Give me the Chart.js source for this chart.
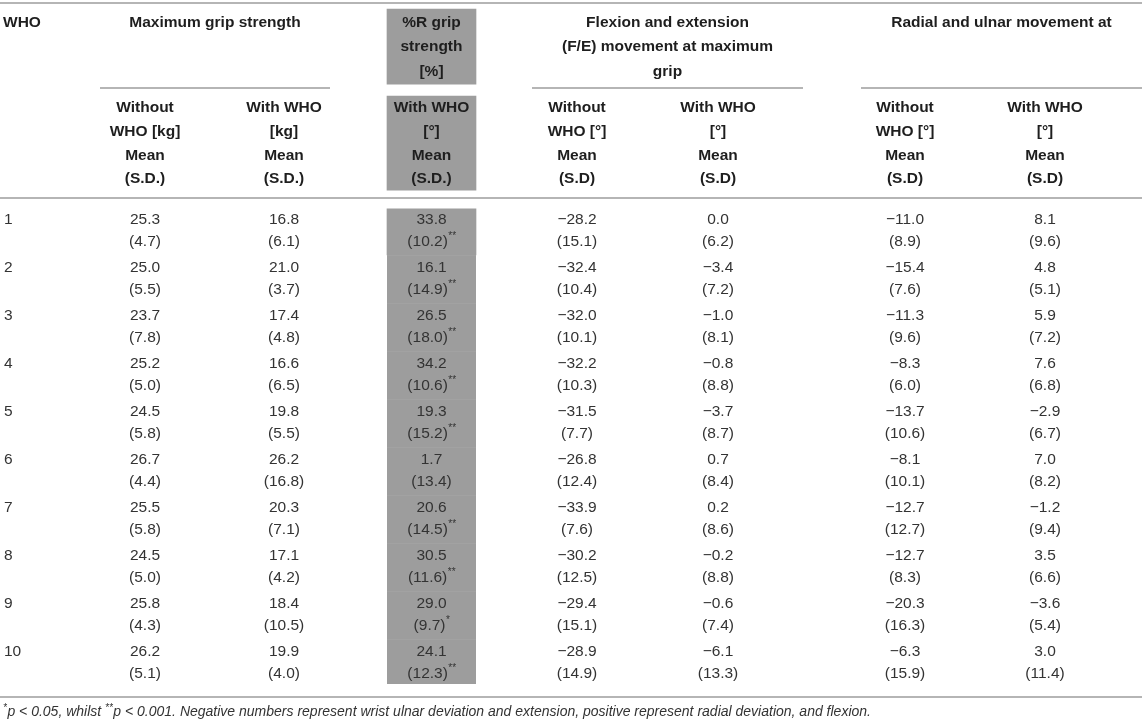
<!DOCTYPE html>
<html>
<head>
<meta charset="utf-8">
<script src="https://cdn.jsdelivr.net/npm/chart.js@4/dist/chart.umd.min.js"></script>
<style>
  html, body { margin: 0; padding: 0; background: #fff; }
  #wrap { width: 1145px; height: 722px; }
</style>
</head>
<body>
<div id="wrap"><canvas id="whoTable"></canvas></div>
<script>
// WHO numbers (rows)
const whoRows = ['1', '2', '3', '4', '5', '6', '7', '8', '9', '10'];

// Maximum grip strength [kg]
const gripWithoutMean = [25.3, 25.0, 23.7, 25.2, 24.5, 26.7, 25.5, 24.5, 25.8, 26.2];
const gripWithoutSD = [4.7, 5.5, 7.8, 5.0, 5.8, 4.4, 5.8, 5.0, 4.3, 5.1];
const gripWithMean = [16.8, 21.0, 17.4, 16.6, 19.8, 26.2, 20.3, 17.1, 18.4, 19.9];
const gripWithSD = [6.1, 3.7, 4.8, 6.5, 5.5, 16.8, 7.1, 4.2, 10.5, 4.0];

// %R grip strength
const pctRMean = [33.8, 16.1, 26.5, 34.2, 19.3, 1.7, 20.6, 30.5, 29.0, 24.1];
const pctRSD = [10.2, 14.9, 18.0, 10.6, 15.2, 13.4, 14.5, 11.6, 9.7, 12.3];
const pctRSig = ['**', '**', '**', '**', '**', '', '**', '**', '*', '**'];

// F/E movement at maximum grip [deg]
const feWithoutMean = [-28.2, -32.4, -32.0, -32.2, -31.5, -26.8, -33.9, -30.2, -29.4, -28.9];
const feWithoutSD = [15.1, 10.4, 10.1, 10.3, 7.7, 12.4, 7.6, 12.5, 15.1, 14.9];
const feWithMean = [0.0, -3.4, -1.0, -0.8, -3.7, 0.7, 0.2, -0.2, -0.6, -6.1];
const feWithSD = [6.2, 7.2, 8.1, 8.8, 8.7, 8.4, 8.6, 8.8, 7.4, 13.3];

// Radial and ulnar movement [deg]
const ruWithoutMean = [-11.0, -15.4, -11.3, -8.3, -13.7, -8.1, -12.7, -12.7, -20.3, -6.3];
const ruWithoutSD = [8.9, 7.6, 9.6, 6.0, 10.6, 10.1, 12.7, 8.3, 16.3, 15.9];
const ruWithMean = [8.1, 4.8, 5.9, 7.6, -2.9, 7.0, -1.2, 3.5, -3.6, 3.0];
const ruWithSD = [9.6, 5.1, 7.2, 6.8, 6.7, 8.2, 9.4, 6.6, 5.4, 11.4];

// header texts
const groupTitles = [
  ['Maximum grip strength'],
  ['Flexion and extension', '(F/E) movement at maximum', 'grip'],
  ['Radial and ulnar movement at']
];
const greyTitle = ['%R grip', 'strength', '[%]'];
const subHeads = [
  ['Without', 'WHO [kg]', 'Mean', '(S.D.)'],
  ['With WHO', '[kg]', 'Mean', '(S.D.)'],
  ['With WHO', '[°]', 'Mean', '(S.D.)'],
  ['Without', 'WHO [°]', 'Mean', '(S.D)'],
  ['With WHO', '[°]', 'Mean', '(S.D)'],
  ['Without', 'WHO [°]', 'Mean', '(S.D)'],
  ['With WHO', '[°]', 'Mean', '(S.D)']
];

// ---- layout: x in canvas units, y in row units ----
const colX = { who: 4, gripWithout: 145, gripWith: 284, pctR: 431.5, feWithout: 577, feWith: 718, ruWithout: 905, ruWith: 1045 };
const groupSpan = [[100, 330], [532, 803], [861, 1142]];
const rowPitch = 48;
const yMin = -3.8125;
const yMax = yMin + 722 / rowPitch;
const titleLines = [-3.33, -2.83, -2.31];
const subLines = [-1.56, -1.06, -0.56, -0.08];
const rules = { top: -3.75, group: -1.98, head: 0.31, bottom: 10.71, note: 11.02 };

const FONT = '"Liberation Sans", Arial, sans-serif';
const GREY = '#9d9d9d';

const dataCols = [
  { x: colX.gripWithout, mean: gripWithoutMean, sd: gripWithoutSD },
  { x: colX.gripWith, mean: gripWithMean, sd: gripWithSD },
  { x: colX.pctR, mean: pctRMean, sd: pctRSD, sig: pctRSig },
  { x: colX.feWithout, mean: feWithoutMean, sd: feWithoutSD },
  { x: colX.feWith, mean: feWithMean, sd: feWithSD },
  { x: colX.ruWithout, mean: ruWithoutMean, sd: ruWithoutSD },
  { x: colX.ruWith, mean: ruWithMean, sd: ruWithSD }
];

function fmt(v) {
  return (v < 0 ? '\u2212' : '') + Math.abs(v).toFixed(1);
}

const tablePlugin = {
  id: 'tableText',
  beforeDatasetsDraw(chart) {
    const { ctx, scales: { x, y } } = chart;
    ctx.save();
    ctx.strokeStyle = '#b5b5b5';
    ctx.lineWidth = 2;
    const hline = (x0, x1, v) => {
      const py = Math.round(y.getPixelForValue(v));
      ctx.beginPath();
      ctx.moveTo(x.getPixelForValue(x0), py);
      ctx.lineTo(x.getPixelForValue(x1), py);
      ctx.stroke();
    };
    hline(0, 1142, rules.top);
    hline(0, 1142, rules.head);
    hline(0, 1142, rules.bottom);
    groupSpan.forEach(s => hline(s[0], s[1], rules.group));
    ctx.restore();
  },
  afterDatasetsDraw(chart) {
    const { ctx, scales: { x, y } } = chart;
    ctx.save();
    ctx.textBaseline = 'middle';

    // header
    ctx.fillStyle = '#1e1e1e';
    ctx.font = 'bold 15.5px ' + FONT;
    ctx.textAlign = 'left';
    ctx.fillText('WHO', x.getPixelForValue(colX.who - 1), y.getPixelForValue(titleLines[0]));
    ctx.textAlign = 'center';
    groupTitles.forEach((lines, g) => {
      const cx = x.getPixelForValue((groupSpan[g][0] + groupSpan[g][1]) / 2);
      lines.forEach((t, i) => ctx.fillText(t, cx, y.getPixelForValue(titleLines[i])));
    });
    greyTitle.forEach((t, i) => ctx.fillText(t, x.getPixelForValue(colX.pctR), y.getPixelForValue(titleLines[i])));
    subHeads.forEach((lines, c) => {
      const cx = x.getPixelForValue(dataCols[c].x);
      lines.forEach((t, i) => ctx.fillText(t, cx, y.getPixelForValue(subLines[i])));
    });

    // body
    ctx.fillStyle = '#333';
    ctx.font = '15.5px ' + FONT;
    whoRows.forEach((r, i) => {
      ctx.textAlign = 'left';
      ctx.fillText(r, x.getPixelForValue(colX.who), y.getPixelForValue(i + 1 - 0.23));
    });
    dataCols.forEach(col => {
      const cx = x.getPixelForValue(col.x);
      col.mean.forEach((m, i) => {
        const row = i + 1;
        ctx.font = '15.5px ' + FONT;
        ctx.textAlign = 'center';
        ctx.fillText(fmt(m), cx, y.getPixelForValue(row - 0.23));
        const sdText = '(' + col.sd[i].toFixed(1) + ')';
        const sig = col.sig ? col.sig[i] : '';
        const py = y.getPixelForValue(row + 0.22);
        if (!sig) {
          ctx.fillText(sdText, cx, py);
        } else {
          const w1 = ctx.measureText(sdText).width;
          ctx.font = '10px ' + FONT;
          const w2 = ctx.measureText(sig).width;
          const x0 = cx - (w1 + w2) / 2;
          ctx.textAlign = 'left';
          ctx.fillText(sig, x0 + w1 + 0.5, py - 5);
          ctx.font = '15.5px ' + FONT;
          ctx.fillText(sdText, x0, py);
        }
      });
    });

    // footnote
    ctx.textAlign = 'left';
    ctx.fillStyle = '#333';
    const runs = [
      { t: '*', sup: true },
      { t: 'p < 0.05, whilst ' },
      { t: '**', sup: true },
      { t: 'p < 0.001. Negative numbers represent wrist ulnar deviation and extension, positive represent radial deviation, and flexion.' }
    ];
    let fx = x.getPixelForValue(colX.who - 1);
    const fy = y.getPixelForValue(rules.note);
    runs.forEach(r => {
      ctx.font = r.sup ? 'italic 10px ' + FONT : 'italic 14px ' + FONT;
      ctx.fillText(r.t, fx, r.sup ? fy - 4 : fy);
      fx += ctx.measureText(r.t).width + (r.sup ? 0.5 : 0);
    });
    ctx.restore();
  }
};

// grey shading of the %R column: two header boxes + one cell per WHO row
const headBoxes = [
  { x: colX.pctR, y: [-3.625, -2.06] },
  { x: colX.pctR, y: [-1.81, 0.15] }
];
const rowCells = pctRMean.map((v, i) => ({
  x: colX.pctR,
  y: [i + 0.5 + (i === 0 ? 0.04 : 0), i + 1.5 - (i === pctRMean.length - 1 ? 0.06 : 0)]
}));

new Chart(document.getElementById('whoTable'), {
  type: 'bar',
  data: {
    datasets: [
      { data: headBoxes, backgroundColor: GREY, barThickness: 89, grouped: false, borderWidth: 0 },
      {
        data: rowCells,
        backgroundColor: GREY,
        barThickness: 89,
        grouped: false,
        borderSkipped: false,
        borderColor: '#a4a4a4',
        borderWidth: c => (c.dataIndex > 0 ? { top: 1, right: 0, bottom: 0, left: 0 } : 0)
      }
    ]
  },
  options: {
    responsive: true,
    maintainAspectRatio: false,
    animation: false,
    layout: { padding: 0 },
    plugins: { legend: { display: false }, tooltip: { enabled: false }, title: { display: false } },
    scales: {
      x: { type: 'linear', min: 0, max: 1145, display: false, offset: false },
      y: { type: 'linear', min: yMin, max: yMax, reverse: true, display: false }
    }
  },
  plugins: [tablePlugin]
});
</script>
</body>
</html>
